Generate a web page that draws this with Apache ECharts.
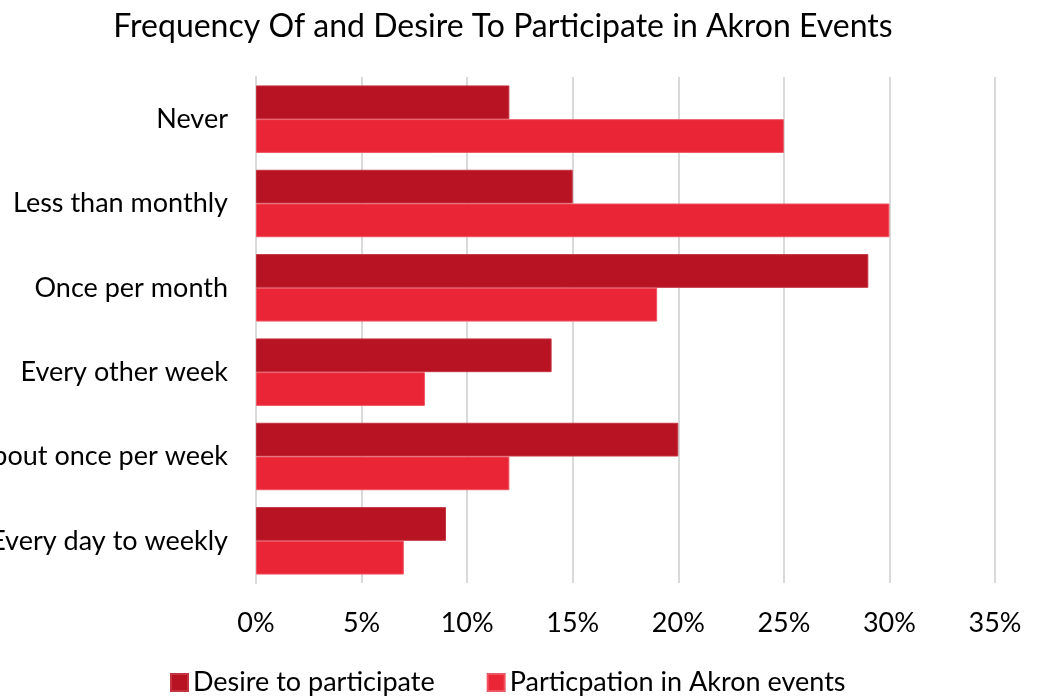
<!DOCTYPE html>
<html>
<head>
<meta charset="utf-8">
<script src="https://cdn.jsdelivr.net/npm/echarts@6/dist/echarts.min.js"></script>
<style>
  html, body { margin: 0; padding: 0; background: #ffffff; }
  #chart { width: 1038px; height: 696px; }
</style>
</head>
<body>
<div id="chart"></div>
<script>
// Survey answers, top to bottom
const categories = [
  'Never',
  'Less than monthly',
  'Once per month',
  'Every other week',
  'About once per week',
  'Every day to weekly'
];
const seriesNames = ['Desire to participate', 'Particpation in Akron events'];
// Percent of respondents
const desireValues = [12, 15, 29, 14, 20, 9];
const participationValues = [25, 30, 19, 8, 12, 7];
const tickLabels = ['0%', '5%', '10%', '15%', '20%', '25%', '30%', '35%'];

const FONT = 'Lato, "Open Sans", sans-serif';
const chart = echarts.init(document.getElementById('chart'), null, { renderer: 'canvas' });

chart.setOption({
  animation: false,
  backgroundColor: '#ffffff',
  title: {
    text: 'Frequency Of and Desire To Participate in Akron Events',
    left: 498,
    top: 6,
    textAlign: 'center',
    textStyle: { fontFamily: FONT, fontSize: 32, fontWeight: 'normal', color: '#000000' }
  },
  legend: {
    top: 664,
    left: 165,
    itemWidth: 17,
    itemHeight: 17,
    itemGap: 52,
    icon: 'rect',
    textStyle: { fontFamily: FONT, fontSize: 27, color: '#000000' },
    data: seriesNames
  },
  grid: {
    left: 256, right: 43, top: 77, bottom: 113,
    containLabel: false,
    outerBoundsMode: 'none'
  },
  xAxis: {
    type: 'value',
    min: 0,
    max: 35,
    interval: 5,
    axisLine: { show: false },
    axisTick: { show: false },
    splitLine: { show: true, lineStyle: { color: '#d9d9d9', width: 2 } },
    axisLabel: {
      fontFamily: FONT,
      fontSize: 27,
      color: '#000000',
      margin: 27,
      formatter: function (v) { return tickLabels[Math.round(v / 5)]; }
    }
  },
  yAxis: {
    type: 'category',
    data: categories,
    inverse: true,
    axisLine: { show: true, lineStyle: { color: '#d9d9d9', width: 2 } },
    axisTick: { show: false },
    axisLabel: { fontFamily: FONT, fontSize: 27, color: '#000000', margin: 28 }
  },
  series: [
    {
      name: seriesNames[0],
      type: 'bar',
      data: desireValues,
      barGap: '0%',
      barCategoryGap: '20%',
      itemStyle: { color: '#b81322', borderColor: '#c43340', borderWidth: 1 }
    },
    {
      name: seriesNames[1],
      type: 'bar',
      data: participationValues,
      barGap: '0%',
      barCategoryGap: '20%',
      itemStyle: { color: '#e92536', borderColor: '#ef5563', borderWidth: 1 }
    }
  ]
});
</script>
</body>
</html>
